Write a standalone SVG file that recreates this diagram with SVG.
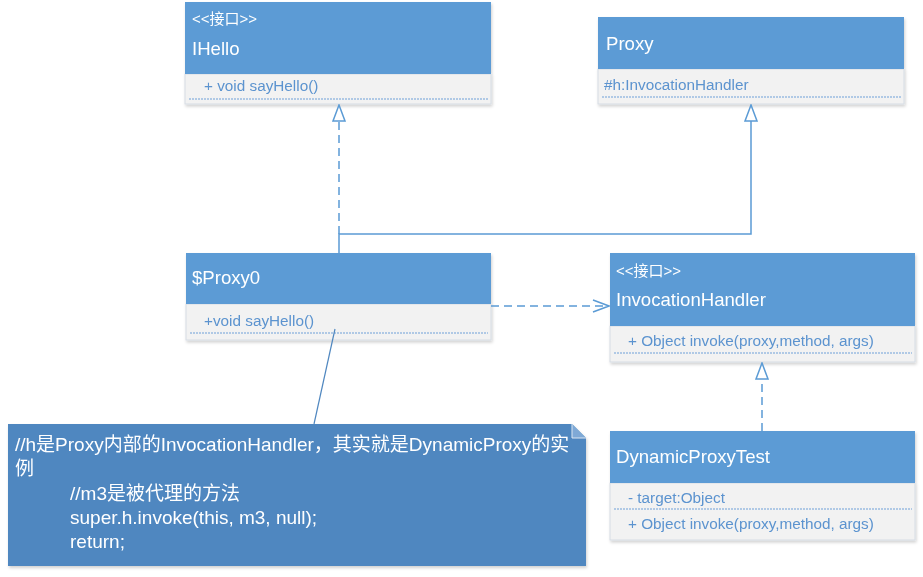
<svg xmlns="http://www.w3.org/2000/svg" width="923" height="577" viewBox="0 0 923 577">
<defs>
<style>
.hdr{fill:#5B9BD5;}
.cmp{fill:#F2F2F2;stroke:#D6DCE4;stroke-width:1;}
.box{filter:url(#sh);}
.t{font-family:"Liberation Sans","Noto Sans CJK SC",sans-serif;fill:#FFFFFF;}
.title{font-size:18.6px;}
.st{font-size:15px;}
.m{font-family:"Liberation Sans","Noto Sans CJK SC",sans-serif;font-size:15.3px;fill:#5B93CF;}
.sep{stroke:#6FA0D8;stroke-width:1;stroke-dasharray:2,1;fill:none;}
.ln{stroke:#5B9BD5;stroke-width:1.5;fill:none;}
.dash{stroke-dasharray:8,5;}
.note{font-family:"Liberation Sans","Noto Sans CJK SC",sans-serif;font-size:19px;fill:#FFFFFF;}
</style>
<filter id="sh" x="-5%" y="-5%" width="110%" height="120%">
<feDropShadow dx="1" dy="2" stdDeviation="1.5" flood-color="#000" flood-opacity="0.18"/>
</filter>
<marker id="tri" viewBox="0 0 18 14" refX="17" refY="7" markerWidth="18" markerHeight="14" markerUnits="userSpaceOnUse" orient="auto">
<path d="M17,7 L1,1 L1,13 Z" fill="#FFFFFF" stroke="#5B9BD5" stroke-width="1.5"/>
</marker>
<marker id="open" viewBox="0 0 18 14" refX="17" refY="7" markerWidth="18" markerHeight="14" markerUnits="userSpaceOnUse" orient="auto">
<path d="M1,1 L17,7 L1,13" fill="none" stroke="#5B9BD5" stroke-width="1.5"/>
</marker>
</defs>
<rect width="923" height="577" fill="#FFFFFF"/>

<g id="IHello" class="box">
<rect class="cmp" x="185" y="74" width="306" height="30"/>
<rect class="hdr" x="185" y="2" width="306" height="72"/>
<text class="t st" x="192" y="24">&lt;&lt;接口&gt;&gt;</text>
<text class="t title" x="192" y="55">IHello</text>
<text class="m" x="204" y="91">+ void sayHello()</text>
<line class="sep" x1="189" y1="99" x2="488" y2="99"/>
</g>

<g id="Proxy" class="box">
<rect class="cmp" x="598" y="69" width="306" height="35"/>
<rect class="hdr" x="598" y="17" width="306" height="52"/>
<text class="t title" x="606" y="50">Proxy</text>
<text class="m" x="604" y="90">#h:InvocationHandler</text>
<line class="sep" x1="602" y1="97" x2="901" y2="97"/>
</g>

<g id="Proxy0" class="box">
<rect class="cmp" x="186" y="304" width="305" height="36"/>
<rect class="hdr" x="186" y="253" width="305" height="51"/>
<text class="t title" x="192" y="284">$Proxy0</text>
<text class="m" x="204" y="326">+void sayHello()</text>
<line class="sep" x1="190" y1="333" x2="488" y2="333"/>
</g>

<g id="InvocationHandler" class="box">
<rect class="cmp" x="610" y="326" width="305" height="36"/>
<rect class="hdr" x="610" y="253" width="305" height="73"/>
<text class="t st" x="616" y="276">&lt;&lt;接口&gt;&gt;</text>
<text class="t title" x="616" y="306">InvocationHandler</text>
<text class="m" x="628" y="346">+ Object invoke(proxy,method, args)</text>
<line class="sep" x1="614" y1="353" x2="912" y2="353"/>
</g>

<g id="DynamicProxyTest" class="box">
<rect class="cmp" x="610" y="483" width="305" height="57"/>
<rect class="hdr" x="610" y="431" width="305" height="52"/>
<text class="t title" x="616" y="463">DynamicProxyTest</text>
<text class="m" x="628" y="503">- target:Object</text>
<line class="sep" x1="614" y1="509" x2="912" y2="509"/>
<text class="m" x="628" y="529">+ Object invoke(proxy,method, args)</text>
</g>

<g id="note" class="box">
<path d="M8,424 L572,424 L586,438 L586,566 L8,566 Z" fill="#4F87C0"/>
<path d="M572,424 L572,438 L586,438" fill="#7FA9D6" stroke="#DCE6F2" stroke-width="1"/>
<text class="note" x="15" y="451">//h是Proxy内部的InvocationHandler，其实就是DynamicProxy的实</text>
<text class="note" x="15" y="475">例</text>
<text class="note" x="70" y="500">//m3是被代理的方法</text>
<text class="note" x="70" y="524">super.h.invoke(this, m3, null);</text>
<text class="note" x="70" y="548">return;</text>
</g>

<g id="connectors">
<path class="ln dash" d="M339,234 L339,105" marker-end="url(#tri)"/>
<path class="ln" d="M339,253 L339,234 L751,234 L751,105" marker-end="url(#tri)"/>
<path class="ln dash" d="M491,306 L609,306" marker-end="url(#open)"/>
<path class="ln dash" d="M762,431 L762,363" marker-end="url(#tri)"/>
<path d="M335,329 L314,424" stroke="#4F87C0" stroke-width="1.2" fill="none"/>
</g>
</svg>
